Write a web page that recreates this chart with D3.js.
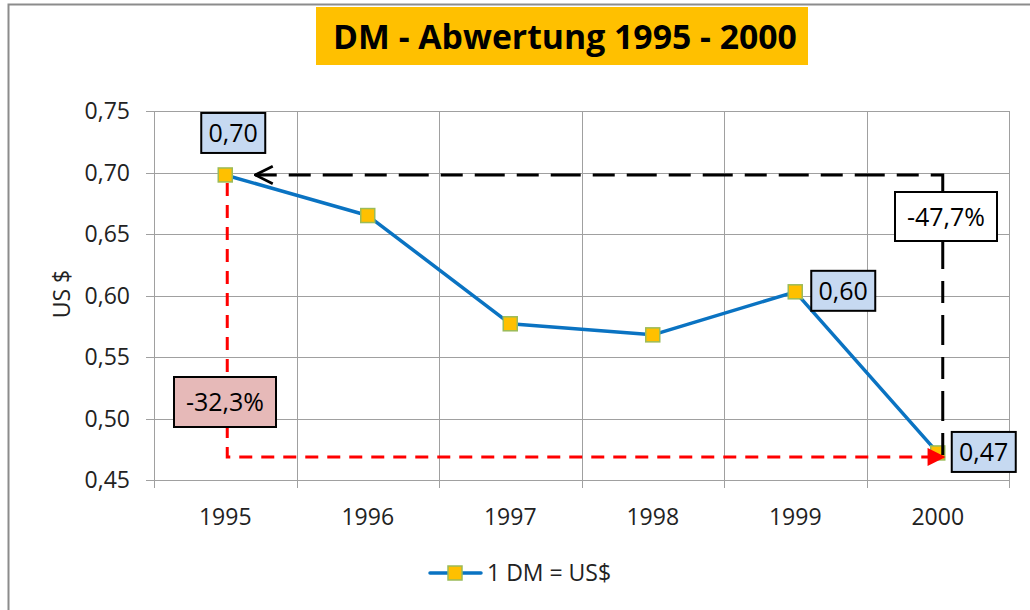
<!DOCTYPE html>
<html>
<meta charset="utf-8">
<title>DM - Abwertung</title>
<head>
  <script src="https://cdnjs.cloudflare.com/ajax/libs/d3/7.8.5/d3.min.js"></script>
  <style>
    body { margin: 0; background: #fff; }
    text { font-family: "Open Sans", "Noto Sans", sans-serif; }
  </style>
</head>
<body>
<script>
  var years = ["1995", "1996", "1997", "1998", "1999", "2000"];
  var rates = [0.698, 0.665, 0.577, 0.568, 0.603, 0.472];
  var yTicks = [0.45, 0.50, 0.55, 0.60, 0.65, 0.70, 0.75];
  var seriesName = "1 DM = US$";
  var title = "DM - Abwertung 1995 - 2000";
  // data labels shown on the chart
  var pointLabels = [{i: 0, text: "0,70"}, {i: 4, text: "0,60"}, {i: 5, text: "0,47"}];
  var changeLabels = ["-32,3%", "-47,7%"];

  var W = 1030, H = 610;
  var svg = d3.select("body").append("svg").attr("width", W).attr("height", H);

  // outer frame (open to the right and bottom)
  svg.append("path").attr("d", "M8.5,610 V4.5 H1030")
    .attr("fill", "none").attr("stroke", "#8c8c8c").attr("stroke-width", 2);

  var x = d3.scaleBand().domain(years).range([154, 1009]);
  var y = d3.scaleLinear().domain([0.45, 0.75]).range([480, 111]);
  var cx = function(i) { return x(years[i]) + x.bandwidth() / 2; };
  var fmt = function(v) { return d3.format(".2f")(v).replace(".", ","); };

  // gridlines
  var grid = svg.append("g").attr("stroke", "#a0a0a0").attr("stroke-width", 1);
  yTicks.forEach(function(t) {
    grid.append("line").attr("x1", 146).attr("x2", 1009)
      .attr("y1", Math.round(y(t)) + 0.5).attr("y2", Math.round(y(t)) + 0.5);
  });
  years.concat(["end"]).forEach(function(d, i) {
    var xx = i < years.length ? x(d) : x.range()[1];
    grid.append("line").attr("x1", Math.round(xx) + 0.5).attr("x2", Math.round(xx) + 0.5)
      .attr("y1", 111).attr("y2", 488);
  });

  // axis labels
  svg.append("g").selectAll("text").data(yTicks).enter().append("text")
    .attr("x", 130).attr("y", function(d) { return y(d) + 8; })
    .attr("text-anchor", "end").attr("font-size", 23).attr("fill", "#222")
    .text(fmt);
  svg.append("g").selectAll("text").data(years).enter().append("text")
    .attr("x", function(d, i) { return cx(i); }).attr("y", 525)
    .attr("text-anchor", "middle").attr("font-size", 23).attr("fill", "#222")
    .text(function(d) { return d; });
  svg.append("text").attr("transform", "translate(70,294) rotate(-90)")
    .attr("text-anchor", "middle").attr("font-size", 23).attr("fill", "#222").text("US $");

  // title
  svg.append("rect").attr("x", 316).attr("y", 7).attr("width", 492).attr("height", 58)
    .attr("fill", "#FFC000");
  var tt = svg.append("text").attr("x", 565).attr("y", 49).attr("text-anchor", "middle")
    .attr("font-size", 31).attr("font-weight", "bold").attr("fill", "#000").text(title);
  var tw = tt.node().getComputedTextLength();
  if (tw > 0) tt.attr("font-size", 31 * 464 / tw);

  // arrow markers
  var defs = svg.append("defs");
  defs.append("marker").attr("id", "redArrow").attr("viewBox", "0 0 10 10")
    .attr("refX", 9).attr("refY", 5).attr("markerWidth", 7).attr("markerHeight", 6)
    .attr("markerUnits", "strokeWidth").attr("orient", "auto")
    .append("path").attr("d", "M0,0 L10,5 L0,10 z").attr("fill", "#ff0000");
  defs.append("marker").attr("id", "blackArrow").attr("viewBox", "0 0 12 12")
    .attr("refX", 11).attr("refY", 6).attr("markerWidth", 7).attr("markerHeight", 7)
    .attr("markerUnits", "strokeWidth").attr("orient", "auto")
    .append("path").attr("d", "M1,1 L11,6 L1,11").attr("fill", "none")
    .attr("stroke", "#000").attr("stroke-width", 1.5);

  var first = rates[0], last = rates[rates.length - 1];

  // series line
  var line = d3.line().x(function(d, i) { return cx(i); }).y(function(d) { return y(d); });
  svg.append("path").datum(rates).attr("d", line)
    .attr("fill", "none").attr("stroke", "#0a73c2").attr("stroke-width", 3.5)
    .attr("stroke-linejoin", "round");
  svg.append("g").selectAll("rect").data(rates).enter().append("rect")
    .attr("x", function(d, i) { return cx(i) - 7; }).attr("y", function(d) { return y(d) - 7; })
    .attr("width", 14).attr("height", 14)
    .attr("fill", "#FFC000").attr("stroke", "#9bbb59").attr("stroke-width", 1.5);

  // red dashed: from 1995 down to 2000 level, then across to 2000
  svg.append("path")
    .attr("d", "M" + (cx(0) + 2) + "," + (y(first) + 8) + " V" + (y(last) + 4) + " H" + (cx(5) + 6))
    .attr("fill", "none").attr("stroke", "#ff0000").attr("stroke-width", 3)
    .attr("stroke-dasharray", "13,9").attr("marker-end", "url(#redArrow)");

  // black dashed: from 2000 up to 1995 level, then back to 1995
  svg.append("path")
    .attr("d", "M" + (cx(5) + 5) + "," + (y(last) + 2) + " V" + y(first) + " H" + (cx(0) + 30))
    .attr("fill", "none").attr("stroke", "#000").attr("stroke-width", 3)
    .attr("stroke-dasharray", "22,12,30,12").attr("marker-end", "url(#blackArrow)");

  // labelled boxes
  function box(xl, yt, w, h, fill, txt) {
    svg.append("rect").attr("x", xl).attr("y", yt).attr("width", w).attr("height", h)
      .attr("fill", fill).attr("stroke", "#000").attr("stroke-width", 2);
    svg.append("text").attr("x", xl + w / 2).attr("y", yt + h / 2 + 9)
      .attr("text-anchor", "middle").attr("font-size", 25)
      .attr("font-family", "'Liberation Sans', Arial, sans-serif").attr("fill", "#000").text(txt);
  }
  var pos = {0: [cx(0) - 24, y(first) - 62], 4: [cx(4) + 16, y(rates[4]) - 21], 5: [cx(5) + 14, y(last) - 21]};
  pointLabels.forEach(function(p) {
    box(pos[p.i][0], pos[p.i][1], 64, 40, "#c6d9f1", p.text);
  });
  box(174, 377, 102, 50, "#e6b9b8", changeLabels[0]);
  box(895, 192, 102, 49, "#ffffff", changeLabels[1]);

  // legend
  var lg = svg.append("g");
  lg.append("line").attr("x1", 430).attr("x2", 481).attr("y1", 573).attr("y2", 573)
    .attr("stroke", "#0a73c2").attr("stroke-width", 3.5).attr("stroke-linecap", "round");
  lg.append("rect").attr("x", 448).attr("y", 566).attr("width", 14).attr("height", 14)
    .attr("fill", "#FFC000").attr("stroke", "#9bbb59").attr("stroke-width", 1.5);
  lg.append("text").attr("x", 487).attr("y", 581).attr("font-size", 23).attr("fill", "#222")
    .text(seriesName);
</script>
</body>
</html>
